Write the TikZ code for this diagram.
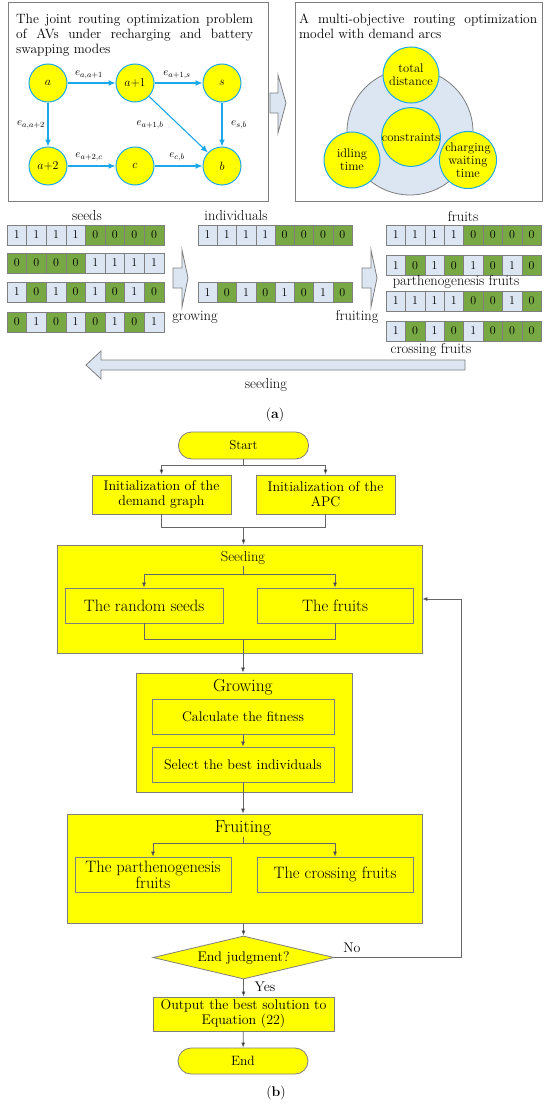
\documentclass[tikz,border=0pt]{standalone}
\usepackage{fontspec}
\setmainfont{Latin Modern Roman}
\usetikzlibrary{arrows.meta,shapes.geometric,calc}
\definecolor{yel}{HTML}{FFFF00}
\definecolor{cyb}{HTML}{1CA8E8}
\definecolor{lb}{HTML}{DCE6F2}
\definecolor{gr}{HTML}{77A843}
\definecolor{bd}{HTML}{7F7F7F}
\definecolor{cl}{HTML}{666666}
\newcommand\fsz[2]{\fontsize{#1}{#2}\selectfont}
\newcommand\bitrow[5]{%
  \foreach \bv [count=\k] in {#5} {%
    \node[c\bv, minimum width=#4pt] (#1-\k) at ({#2+(\k-0.5)*#4},{#3}) {\bv};
  }%
}
\tikzset{
  c1/.style={draw=bd, fill=lb, minimum height=20pt, inner sep=0, font=\fsz{12}{13}},
  c0/.style={draw=bd, fill=gr, minimum height=20pt, inner sep=0, font=\fsz{12}{13}},
  panel/.style={draw=bd, line width=1pt},
  gnode/.style={circle, draw=cyb, fill=yel, line width=1pt, minimum size=38pt, inner sep=0, font=\fsz{12}{13}},
  garr/.style={draw=cyb, line width=1.1pt, -{Latex[length=7pt,width=6pt]}},
  elab/.style={font=\fsz{11}{12}, inner sep=1pt},
  obj/.style={circle, draw=cyb, fill=yel, line width=1pt, minimum size=56pt, inner sep=0, align=center, font=\fsz{12.5}{13}},
  blk/.style={draw=bd, fill=lb, line width=0.8pt},
  ttl/.style={font=\fsz{13.5}{15}, inner sep=0},
  lbl/.style={font=\fsz{14.5}{16}, inner sep=0},
  fbox/.style={draw=bd, fill=yel, line width=0.8pt, inner sep=0, align=center},
  conn/.style={draw=cl, line width=0.7pt},
  arr/.style={conn, -{Latex[length=5pt,width=4pt,fill=black]}},
}
\begin{document}
\begin{tikzpicture}[x=1pt,y=-1pt]
\useasboundingbox (0,0) rectangle (550,1108);
\fill[white] (0,0) rectangle (550,1108);

% ---------- top-left panel
\draw[panel] (8,3) rectangle (268,201);
\node[ttl, anchor=base west] (t1) at (16,24) {\makebox[237pt][s]{The joint routing optimization problem}};
\node[ttl, anchor=base west] (t2) at (16,38.5) {\makebox[237pt][s]{of AVs under recharging and battery}};
\node[ttl, anchor=base west] (t3) at (16,53) {swapping modes};

\node[gnode] (ga)  at (48,83) {$a$};
\node[gnode] (ga1) at (135,83) {$a$+1};
\node[gnode] (gs)  at (222,83) {$s$};
\node[gnode] (ga2) at (48,166) {$a$+2};
\node[gnode] (gc)  at (135,166) {$c$};
\node[gnode] (gb)  at (222,166) {$b$};
\draw[garr] (ga) -- (ga1);
\draw[garr] (ga1) -- (gs);
\draw[garr] (ga) -- (ga2);
\draw[garr] (ga1) -- (gb);
\draw[garr] (gs) -- (gb);
\draw[garr] (ga2) -- (gc);
\draw[garr] (gc) -- (gb);
\node[elab] (l1) at (89,75) {$e_{a,a+1}$};
\node[elab] (l2) at (177,75) {$e_{a+1,s}$};
\node[elab] (l3) at (31,125) {$e_{a,a+2}$};
\node[elab] (l4) at (150,125) {$e_{a+1,b}$};
\node[elab] (l5) at (239,125) {$e_{s,b}$};
\node[elab] (l6) at (89,157) {$e_{a+2,c}$};
\node[elab] (l7) at (177,157) {$e_{c,b}$};

% arrow between panels
\draw[blk] (270,93) -- (278,93) -- (278,75) -- (286,103) -- (278,133) -- (278,113) -- (270,113) -- cycle;

% ---------- top-right panel
\draw[panel] (295,3) rectangle (542,201);
\node[ttl, anchor=base west] (r1) at (299,24) {\makebox[238pt][s]{A multi-objective routing optimization}};
\node[ttl, anchor=base west] (r2) at (299,38.5) {model with demand arcs};
\node[circle, draw=bd, fill=lb, line width=0.8pt, minimum size=126pt, inner sep=0] (big) at (410,132) {};
\node[obj] (o1) at (411,75) {total\\distance};
\node[obj] (o2) at (411,137) {constraints};
\node[obj] (o3) at (352,160) {idling\\time};
\node[obj] (o4) at (468,160) {charging\\waiting\\time};

% ---------- seeds / individuals / fruits
\node[lbl] (lseeds) at (87,216) {seeds};
\node[lbl] (lind) at (236,216) {individuals};
\node[lbl] (lfru) at (463,216) {fruits};

\bitrow{s1}{7}{235}{19.6}{1,1,1,1,0,0,0,0}
\bitrow{s2}{7}{263}{19.6}{0,0,0,0,1,1,1,1}
\bitrow{s3}{7}{292}{19.6}{1,0,1,0,1,0,1,0}
\bitrow{s4}{7}{322}{19.6}{0,1,0,1,0,1,0,1}

\bitrow{i1}{198}{235}{19.25}{1,1,1,1,0,0,0,0}
\bitrow{i2}{198}{292.5}{19.25}{1,0,1,0,1,0,1,0}

\bitrow{f1}{386}{235}{19.4}{1,1,1,1,0,0,0,0}
\bitrow{f2}{386}{265.5}{19.4}{1,0,1,0,1,0,1,0}
\bitrow{f3}{386}{301}{19.4}{1,1,1,1,0,0,1,0}
\bitrow{f4}{386}{331}{19.4}{1,0,1,0,1,0,0,0}

\node[lbl] (lpar) at (456,282) {parthenogenesis fruits};
\node[lbl] (lcro) at (431,350) {crossing fruits};
\node[lbl] (lgro) at (195,317) {growing};
\node[lbl] (lfrt) at (357,317) {fruiting};
\node[lbl] (lsee) at (266,385) {seeding};

\draw[blk] (173,268) -- (182,268) -- (182,250) -- (188,278) -- (182,307) -- (182,288) -- (173,288) -- cycle;
\draw[blk] (362,268) -- (371,268) -- (371,250) -- (377,278) -- (371,307) -- (371,288) -- (362,288) -- cycle;
\draw[blk] (465,360) -- (101,360) -- (101,351) -- (86,365) -- (101,379) -- (101,370) -- (465,370) -- cycle;

\node[font=\fsz{14}{15}] (capa) at (275,415) {(\textbf{a})};

% ---------- flowchart
\node[fbox, rounded corners=13pt, minimum width=130pt, minimum height=27pt, font=\fsz{13}{14}] (start) at (243.5,445.5) {Start};
\node[fbox, minimum width=139pt, minimum height=39pt, font=\fsz{14}{15}] (init1) at (161.5,494.5) {Initialization of the\\demand graph};
\node[fbox, minimum width=139pt, minimum height=39pt, font=\fsz{14}{15}] (init2) at (325.5,494.5) {Initialization of the\\APC};

\node[fbox, minimum width=365pt, minimum height=108pt] (seedbox) at (239.5,599) {};
\node[font=\fsz{14.5}{16}, inner sep=1pt] (seedlbl) at (243,558) {Seeding};
\node[fbox, minimum width=158pt, minimum height=35pt, font=\fsz{16.5}{18}] (rseed) at (144,605.5) {The random seeds};
\node[fbox, minimum width=156pt, minimum height=35pt, font=\fsz{16.5}{18}] (fseed) at (335,605.5) {The fruits};

\node[fbox, minimum width=216pt, minimum height=119pt] (grow) at (244,732.5) {};
\node[font=\fsz{17.5}{19}, inner sep=1pt] (growlbl) at (243,687) {Growing};
\node[fbox, minimum width=182pt, minimum height=35pt, font=\fsz{14}{15}] (calc) at (243,716.5) {Calculate the fitness};
\node[fbox, minimum width=182pt, minimum height=35pt, font=\fsz{14}{15}] (sel) at (243,764.5) {Select the best individuals};

\node[fbox, minimum width=355pt, minimum height=109pt] (fruit) at (244.5,868.5) {};
\node[font=\fsz{17.5}{19}, inner sep=1pt] (fruitlbl) at (243,828) {Fruiting};
\node[fbox, minimum width=156pt, minimum height=35pt, font=\fsz{16.5}{16}] (parth) at (153,874.5) {The parthenogenesis\\fruits};
\node[fbox, minimum width=156pt, minimum height=35pt, font=\fsz{16.5}{16}] (cross) at (335,874.5) {The crossing fruits};

\node[diamond, draw=bd, fill=yel, line width=0.8pt, inner sep=0, minimum width=181pt, minimum height=43pt, aspect=4.2, font=\fsz{14}{15}] (dia) at (243.5,957.5) {End judgment?};
\node[fbox, minimum width=181pt, minimum height=34pt, font=\fsz{14}{15}] (out) at (243.5,1014) {Output the best solution to\\Equation (22)};
\node[fbox, rounded corners=13pt, minimum width=130pt, minimum height=26pt, font=\fsz{13.5}{14}] (endn) at (243,1061) {End};

\node[font=\fsz{14}{15}] (no) at (352,948) {No};
\node[font=\fsz{14}{15}] (yes) at (265,987) {Yes};
\node[font=\fsz{14}{15}] (capb) at (276,1093) {(\textbf{b})};

% connectors
\coordinate (b1) at (243.5,465);
\coordinate (m1) at (243.5,527);
\draw[conn] (start.south) -- (b1);
\draw[arr] (b1) -| (init1.north);
\draw[arr] (b1) -| (init2.north);
\draw[conn] (init1.south) |- (m1);
\draw[conn] (init2.south) |- (m1);
\draw[arr] (m1) -- (m1 |- seedbox.north);

\coordinate (sb) at (243,574);
\draw[conn] (seedlbl.south) -- (sb);
\draw[arr] (sb) -| (rseed.north);
\draw[arr] (sb) -| (fseed.north);
\coordinate (sm) at (243,639);
\draw[conn] (rseed.south) |- (sm);
\draw[conn] (fseed.south) |- (sm);
\draw[arr] (sm) -- (sm |- grow.north);

\draw[arr] (calc) -- (sel);
\draw[arr] (sel.south) -- (sel.south |- fruit.north);

\coordinate (fb) at (243,843);
\draw[conn] (fruitlbl.south) -- (fb);
\draw[arr] (fb) -| (parth.north);
\draw[arr] (fb) -| (cross.north);

\draw[arr] (dia.north |- fruit.south) -- (dia.north);
\draw[arr] (dia) -- (out);
\draw[arr] (out) -- (endn);
\coordinate (fbk) at (461,957.5);
\draw[arr] (dia.east) -- (fbk) |- (seedbox.east);
\end{tikzpicture}
\end{document}
